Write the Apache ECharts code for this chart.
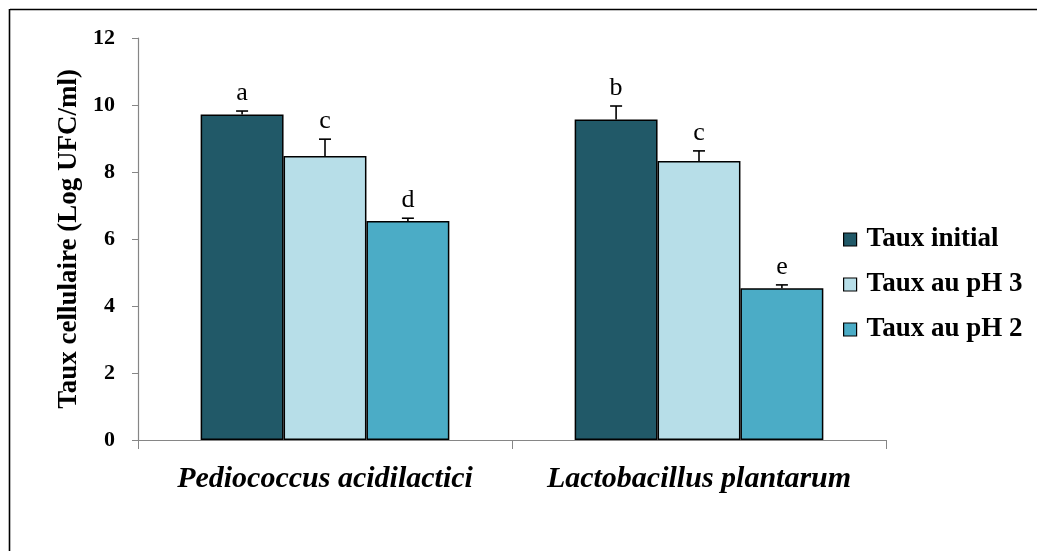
<!DOCTYPE html>
<html><head><meta charset="utf-8">
<script src="https://cdn.jsdelivr.net/npm/echarts@6/dist/echarts.min.js"></script>
<style>html,body{margin:0;padding:0;background:#fff}#c{width:1037px;height:551px}</style>
</head><body><div id="c"></div>
<script>
var categories = ['Pediococcus acidilactici', 'Lactobacillus plantarum'];
var seriesNames = ['Taux initial', 'Taux au pH 3', 'Taux au pH 2'];
var tauxInitial = [9.72, 9.57];
var tauxPH3 = [8.48, 8.33];
var tauxPH2 = [6.54, 4.53];
var errInitial = [0.10, 0.40];
var errPH3 = [0.50, 0.30];
var errPH2 = [0.08, 0.10];
var lettersInitial = ['a', 'b'];
var lettersPH3 = ['c', 'c'];
var lettersPH2 = ['d', 'e'];
var yTicks = [0, 2, 4, 6, 8, 10, 12];

var FONT = '"Liberation Serif", "DejaVu Serif", serif';
var colors = ['#215968', '#B7DEE8', '#4BACC6'];
var values = [tauxInitial, tauxPH3, tauxPH2];
var errs = [errInitial, errPH3, errPH2];
var letters = [lettersInitial, lettersPH3, lettersPH2];
var GAP = 0.335;

var chart = echarts.init(document.getElementById('c'));
var series = [];
values.forEach(function (vals, si) {
  series.push({
    name: seriesNames[si], type: 'bar', data: vals,
    barGap: '0%', barCategoryGap: (GAP * 100) + '%',
    itemStyle: { color: colors[si], borderColor: '#000', borderWidth: 1.5 },
    z: 2
  });
});
values.forEach(function (vals, si) {
  series.push({
    type: 'custom', silent: true, z: 5,
    data: vals.map(function (v, i) { return [i, v, errs[si][i], letters[si][i]]; }),
    renderItem: function (params, api) {
      var ci = api.value(0), v = api.value(1), e = api.value(2);
      var catW = api.size([1, 0])[0];
      var barW = catW * (1 - GAP) / 3;
      var base = api.coord([ci, v]);
      var top = api.coord([ci, v + e]);
      var x = base[0] + (si - 1) * barW;
      var cap = 6;
      return { type: 'group', children: [
        { type: 'line', shape: { x1: x, y1: base[1], x2: x, y2: top[1] }, style: { stroke: '#000', lineWidth: 1.6 } },
        { type: 'line', shape: { x1: x - cap, y1: top[1], x2: x + cap, y2: top[1] }, style: { stroke: '#000', lineWidth: 1.6 } },
        { type: 'text', style: { text: api.value(3), x: x, y: top[1] - 5, textAlign: 'center', textVerticalAlign: 'bottom', font: '26px ' + FONT, fill: '#000' } }
      ] };
    }
  });
});

chart.setOption({
  animation: false,
  backgroundColor: '#fff',
  grid: { left: 138, right: 151, top: 38, bottom: 111 },
  legend: {
    orient: 'vertical', left: 838, top: 221, itemGap: 18,
    itemWidth: 13, itemHeight: 13, icon: 'rect',
    data: seriesNames,
    itemStyle: { borderColor: '#000', borderWidth: 1.2 },
    textStyle: { fontFamily: FONT, fontWeight: 'bold', fontSize: 27, color: '#000', padding: [0, 0, 0, 5] }
  },
  xAxis: {
    type: 'category', data: categories,
    axisLine: { lineStyle: { color: '#868686', width: 1.2 } },
    axisTick: { show: true, length: 9, lineStyle: { color: '#868686' } },
    axisLabel: { interval: 0, margin: 24, fontFamily: FONT, fontStyle: 'italic', fontWeight: 'bold', fontSize: 30, color: '#000' }
  },
  yAxis: {
    type: 'value', min: 0, max: 12, interval: 2,
    name: 'Taux cellulaire (Log UFC/ml)', nameLocation: 'middle', nameGap: 54, nameRotate: 90,
    nameTextStyle: { fontFamily: FONT, fontWeight: 'bold', fontSize: 27, color: '#000' },
    splitLine: { show: false },
    axisLine: { show: true, lineStyle: { color: '#868686', width: 1.2 } },
    axisTick: { show: true, length: 6, lineStyle: { color: '#868686' } },
    axisLabel: { margin: 23, fontFamily: FONT, fontWeight: 'bold', fontSize: 22, color: '#000',
      formatter: function (v) { return yTicks.indexOf(v) >= 0 ? String(v) : ''; } }
  },
  graphic: [
    { type: 'line', shape: { x1: 10, y1: 9.5, x2: 1037, y2: 9.5 }, style: { stroke: '#000', lineWidth: 1.6 } },
    { type: 'line', shape: { x1: 9.5, y1: 9, x2: 9.5, y2: 551 }, style: { stroke: '#000', lineWidth: 1.6 } }
  ],
  series: series
});
</script></body></html>
